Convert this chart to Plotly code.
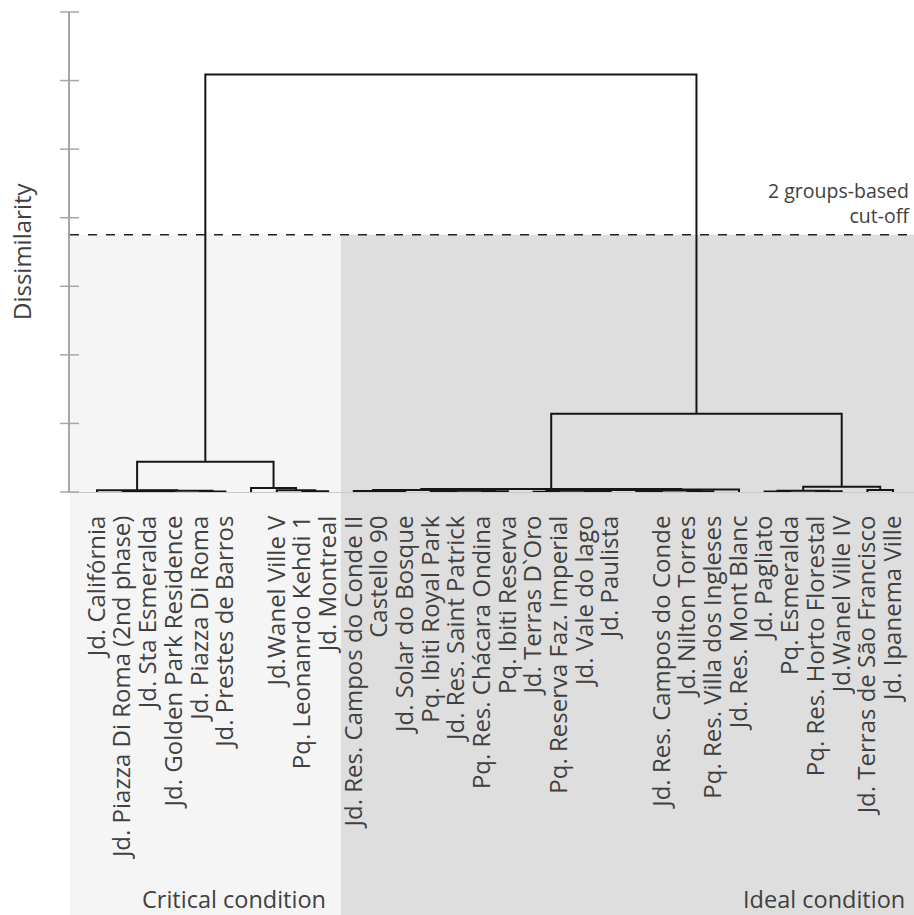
import plotly.graph_objects as go

# ---------------- data ----------------
leaf_labels = [
    "Jd. Califórnia", "Jd. Piazza Di Roma (2nd phase)", "Jd. Sta Esmeralda",
    "Jd. Golden Park Residence", "Jd. Piazza Di Roma", "Jd. Prestes de Barros",
    "", "Jd.Wanel Ville V", "Pq. Leonanrdo Kehdi 1", "Jd. Montreal",
    "Jd. Res. Campos do Conde II", "Castello 90", "Jd. Solar do Bosque",
    "Pq. Ibiti Royal Park", "Jd. Res. Saint Patrick", "Pq. Res. Chácara Ondina",
    "Pq. Ibiti Reserva", "Jd. Terras D`Oro", "Pq. Reserva Faz. Imperial",
    "Jd. Vale do lago", "Jd. Paulista", "", "Jd. Res. Campos do Conde",
    "Jd. Nilton Torres", "Pq. Res. Villa dos Ingleses", "Jd. Res. Mont Blanc",
    "Jd. Pagliato", "Pq. Esmeralda", "Pq. Res. Horto Florestal",
    "Jd.Wanel Ville IV", "Jd. Terras de São Francisco", "Jd. Ipanema Ville",
]

# linkage (scipy style: ids >= 32 refer to earlier merges)
merge_a = [2, 1, 4, 33, 0, 8, 7, 6, 36, 26, 28, 41, 30, 43,
           11, 10, 13, 15, 48, 47, 17, 19, 52, 21, 23, 55, 54, 58, 51, 60, 40]
merge_b = [3, 32, 5, 34, 35, 9, 37, 38, 39, 27, 29, 42, 31, 44,
           12, 46, 14, 16, 49, 50, 18, 20, 53, 22, 24, 56, 57, 25, 59, 45, 61]
merge_h = [0.006, 0.012, 0.008, 0.018, 0.025, 0.012, 0.025, 0.06, 0.44,
           0.006, 0.012, 0.02, 0.03, 0.075,
           0.008, 0.015, 0.006, 0.01, 0.02, 0.03,
           0.005, 0.01, 0.018, 0.008, 0.012, 0.022, 0.028, 0.035, 0.045,
           1.14, 6.09]

y_ticks = [0, 1, 2, 3, 4, 5, 6, 7]
cutoff = 3.75
group_names = ["Critical condition", "Ideal condition"]

# ---------------- build dendrogram ----------------
n = len(leaf_labels)
node_x = [float(i) for i in range(n)]
node_h = [0.0] * n
node_leaves = [[i] for i in range(n)]
xs, ys = [], []
for a, b, h in zip(merge_a, merge_b, merge_h):
    xa, xb = node_x[a], node_x[b]
    ha, hb = node_h[a], node_h[b]
    xs += [xa, xa, xb, xb, None]
    ys += [ha, h, h, hb, None]
    node_x.append((xa + xb) / 2)
    node_h.append(h)
    node_leaves.append(node_leaves[a] + node_leaves[b])

root = len(node_x) - 1
split = (max(node_leaves[merge_a[root - n]]) + min(node_leaves[merge_b[root - n]])) / 2

W, H = 914, 915
ML, MR, MT, MB = 70, 0, 12, 423
PW, PH = W - ML - MR, H - MT - MB
X_RANGE = [-1.051, 31.815]
Y_RANGE = [0, 7]


def px_x(v):
    return (v - X_RANGE[0]) / (X_RANGE[1] - X_RANGE[0])


def px_y(v):
    return (v - Y_RANGE[0]) / (Y_RANGE[1] - Y_RANGE[0])


def pix_x(p):  # pixel column -> paper
    return (p - ML) / PW


def pix_y(p):  # pixel row -> paper
    return (H - MB - p) / PH


TXT = "#404040"
FONT = "Open Sans"

fig = go.Figure()
fig.add_trace(go.Scatter(
    x=xs, y=ys, mode="lines",
    line=dict(color="#151515", width=2),
    hoverinfo="skip", showlegend=False, cliponaxis=False,
))

shapes = []
bottom = -MB / PH
shapes.append(dict(type="rect", xref="paper", yref="paper", x0=0, x1=px_x(split),
                   y0=bottom, y1=px_y(cutoff), fillcolor="#f5f5f5",
                   line=dict(width=0), layer="below"))
shapes.append(dict(type="rect", xref="paper", yref="paper", x0=px_x(split), x1=1,
                   y0=bottom, y1=px_y(cutoff), fillcolor="#dedede",
                   line=dict(width=0), layer="below"))
shapes.append(dict(type="line", xref="paper", yref="paper", x0=0, x1=1,
                   y0=px_y(cutoff), y1=px_y(cutoff),
                   line=dict(color="#222222", width=1.5, dash="dash")))
for t in y_ticks:
    shapes.append(dict(type="line", xref="paper", yref="paper",
                       x0=-10 / PW, x1=9 / PW, y0=px_y(t), y1=px_y(t),
                       line=dict(color="#a6a6a6", width=1.5)))

annotations = [
    dict(text="Dissimilarity", xref="paper", yref="paper",
         x=pix_x(21), y=pix_y(251), textangle=-90,
         showarrow=False, font=dict(family=FONT, size=24, color=TXT),
         xanchor="center", yanchor="middle"),
    dict(text=group_names[0], xref="paper", yref="paper",
         x=pix_x(233.5), y=pix_y(899),
         showarrow=False, font=dict(family=FONT, size=23.5, color=TXT),
         xanchor="center", yanchor="middle"),
    dict(text=group_names[1], xref="paper", yref="paper",
         x=pix_x(907), y=pix_y(899),
         showarrow=False, font=dict(family=FONT, size=23.5, color=TXT),
         xanchor="right", yanchor="middle"),
    dict(text="2 groups-based<br>cut-off", xref="paper", yref="paper",
         x=pix_x(912), y=px_y(cutoff) + 4 / PH, align="right",
         showarrow=False, font=dict(family=FONT, size=19.5, color=TXT),
         xanchor="right", yanchor="bottom"),
]

fig.update_layout(
    width=W, height=H,
    margin=dict(l=ML, r=MR, t=MT, b=MB, pad=0),
    paper_bgcolor="white", plot_bgcolor="rgba(0,0,0,0)",
    shapes=shapes, annotations=annotations,
    font=dict(family=FONT, color=TXT),
    xaxis=dict(range=X_RANGE, tickmode="array", tickvals=list(range(n)),
               ticktext=leaf_labels, tickangle=-90, showgrid=False,
               zeroline=False, showline=True, linecolor="#c8c8c8", linewidth=1,
               ticks="", ticklabelstandoff=13,
               tickfont=dict(family=FONT, size=24, color=TXT)),
    yaxis=dict(range=Y_RANGE, tickvals=y_ticks, showticklabels=False,
               showgrid=False, zeroline=False, showline=True,
               linecolor="#a6a6a6", linewidth=1.5, ticks=""),
)

fig.write_html(
    "out.html",
    config={"displayModeBar": False},
    post_script="document.body.style.margin='0';document.body.style.overflow='hidden';",
)
